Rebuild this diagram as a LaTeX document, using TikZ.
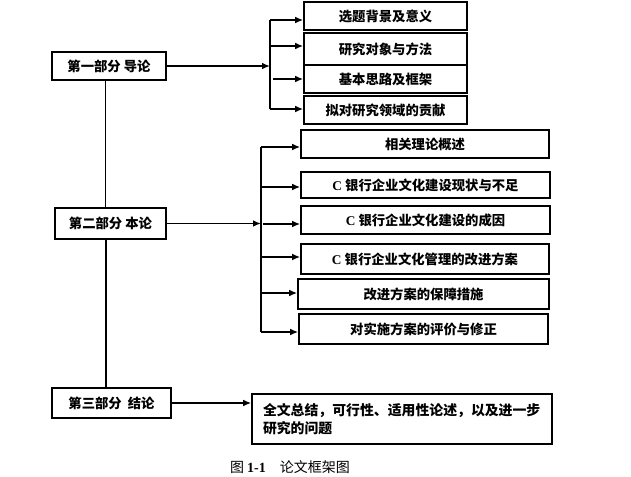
\documentclass[tikz,border=0pt]{standalone}
\usepackage{fontspec}
\usetikzlibrary{arrows.meta}
\setmainfont{Liberation Serif}
\newfontfamily\cjk{Noto Sans CJK SC}

\begin{document}
\begin{tikzpicture}[x=0.75pt,y=-0.75pt,every path/.style={>={Latex[length=6pt,width=5pt]}},
  box/.style={draw,rectangle,line width=1.2pt,inner sep=0pt,font=\cjk\bfseries\fontsize{10pt}{14pt}\selectfont},
  wh/.style 2 args={minimum width=#1*0.75pt,minimum height=#2*0.75pt},
  line/.style={line width=1.1pt}]
\useasboundingbox (0,0) rectangle (631,477);
\node[box,wh={114}{28}] (p1) at (109,66)      { 第一部分 导论 };
\node[box,wh={111}{31}] (p2) at (110.5,223.5) { 第二部分 本论 };
\node[box,wh={119}{30}] (p3) at (111.5,403)   { 第三部分\ \ 结论 };
\node[box,wh={163}{28}] (a1) at (385.5,16)    { 选题背景及意义 };
\node[box,wh={163}{32}] (a2) at (385.5,49)    { 研究对象与方法 };
\node[box,wh={163}{28}] (a3) at (385.5,79)    { 基本思路及框架 };
\node[box,wh={163}{28}] (a4) at (385.5,110)   { 拟对研究领域的贡献 };
\node[box,wh={248}{28}] (b1) at (425,144)     { 相关理论概述 };
\node[box,wh={249}{26}] (b2) at (425.5,185)   { \textrm{C} 银行企业文化建设现状与不足 };
\node[box,wh={249}{28}] (b3) at (425.5,220)   { \textrm{C} 银行企业文化建设的成因 };
\node[box,wh={248}{30}] (b4) at (425,259)     { \textrm{C} 银行企业文化管理的改进方案 };
\node[box,wh={251}{30}] (b5) at (423.5,294)   { 改进方案的保障措施 };
\node[box,wh={249}{30}] (b6) at (423.5,329)   { 对实施方案的评价与修正 };
\node[box,wh={300}{50},inner xsep=8.25pt,text width=208.5pt,align=left,
      font=\cjk\bfseries\fontsize{10.4pt}{13.5pt}\selectfont] (c1) at (402,419)
      { 全文总结，可行性、适用性论述，以及进一步\\研究的问题 };
\node[font=\cjk\fontsize{10.5pt}{12pt}\selectfont] (cap) at (290,467) { 图 \textrm{\textbf{1-1}}\quad 论文框架图 };
\coordinate (s)   at (105.5,0);
\coordinate (ja1) at (270,20);
\coordinate (ja2) at (270,46);
\coordinate (ja3) at (273,79);
\coordinate (ja4) at (270,109);
\coordinate (jb1) at (261,147);
\coordinate (jb2) at (261,187);
\coordinate (jb3) at (263,224);
\coordinate (jb4) at (261,257);
\coordinate (jb5) at (261,293);
\coordinate (jb6) at (261,332);
\draw[line]                 (p1.south -| s) -- (p2.north -| s);
\draw[line,line width=1.5pt] (p2.south -| s) -- (p3.north -| s);
\draw[line,->]  (p1.east) -- (p1.east -| ja1);
\draw[line]     (ja1) -- (ja4);
\draw[line,->]  (ja1) -- (ja1 -| a1.west);
\draw[line,->]  (ja2) -- (ja2 -| a2.west);
\draw[line,->]  (ja3) -- (ja3 -| a3.west);
\draw[line,->]  (ja4) -- (ja4 -| a4.west);
\draw[line,->]  (p2.east) -- (p2.east -| jb1);
\draw[line]     (jb1) -- (jb6);
\draw[line,->]  (jb1) -- (jb1 -| b1.west);
\draw[line,->]  (jb2) -- (jb2 -| b2.west);
\draw[line,->]  (jb3) -- (jb3 -| b3.west);
\draw[line,->]  (jb4) -- (jb4 -| b4.west);
\draw[line,->]  (jb5) -- (jb5 -| b5.west);
\draw[line,->]  (jb6) -- (jb6 -| b6.west);
\draw[line,->]  (p3.east) -- (p3.east -| c1.west);
\end{tikzpicture}
\end{document}
